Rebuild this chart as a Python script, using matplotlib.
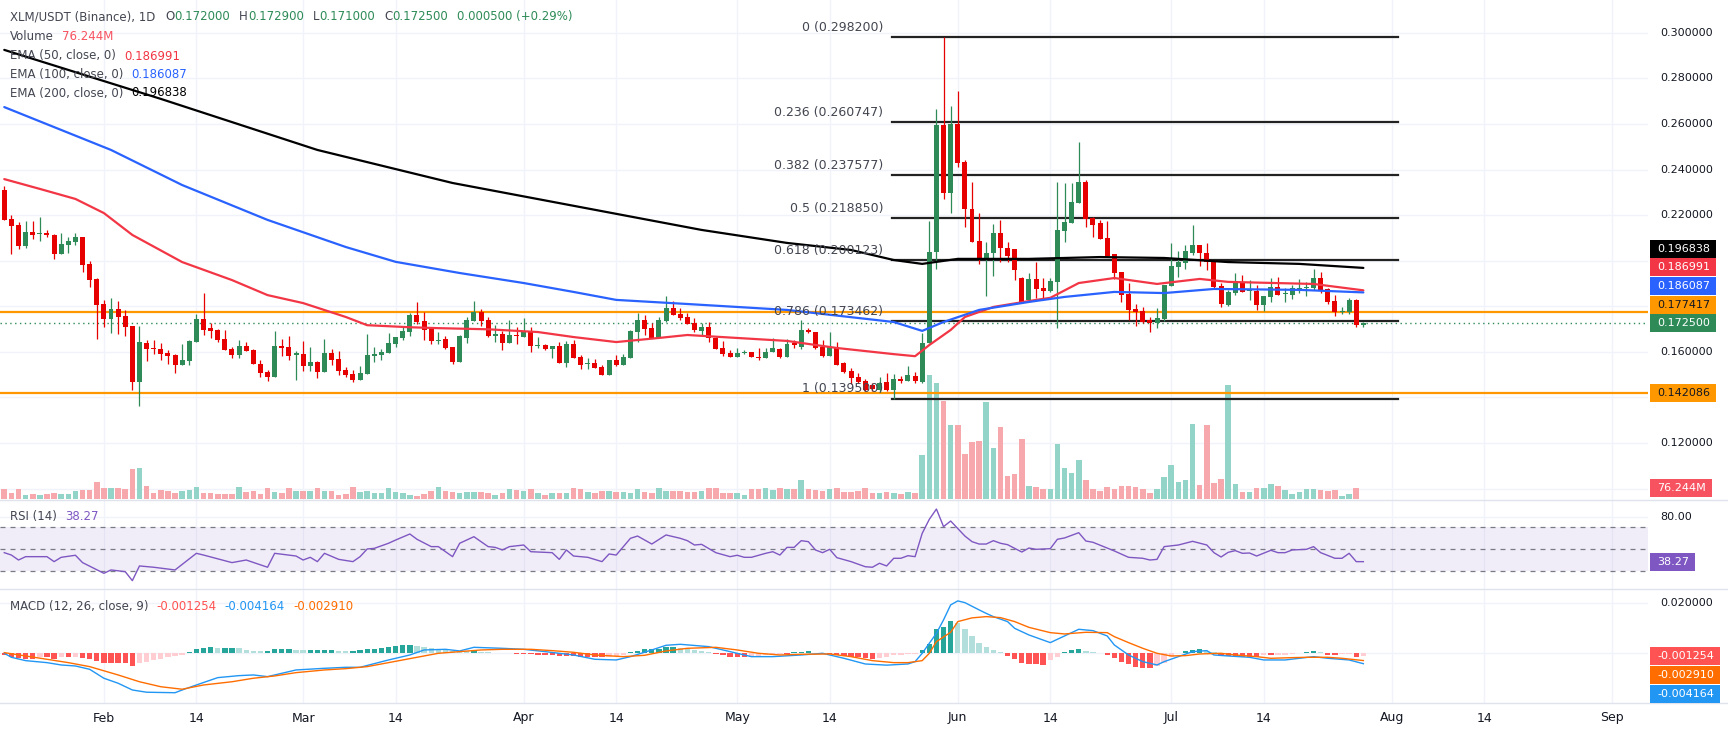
import numpy as np
import pandas as pd
import matplotlib
matplotlib.use("Agg")
import matplotlib.pyplot as plt
from matplotlib.patches import Rectangle
from matplotlib.lines import Line2D
from matplotlib.transforms import blended_transform_factory as blend

W, H = 1728, 735

# ---- datos: XLM/USDT diario
start = "2025-01-18"

opens = [
    0.2310, 0.2183, 0.2157, 0.2064, 0.2126, 0.2116, 0.2123, 0.2113, 0.2031, 0.2070,
    0.2082, 0.2104, 0.1986, 0.1921, 0.1810, 0.1744, 0.1788, 0.1759, 0.1714, 0.1469,
    0.1639, 0.1617, 0.1613, 0.1595, 0.1586, 0.1542, 0.1560, 0.1643, 0.1744, 0.1705,
    0.1696, 0.1657, 0.1613, 0.1586, 0.1626, 0.1608, 0.1547, 0.1512, 0.1490, 0.1626,
    0.1621, 0.1588, 0.1591, 0.1538, 0.1556, 0.1512, 0.1595, 0.1569, 0.1520, 0.1503,
    0.1477, 0.1503, 0.1583, 0.1586, 0.1595, 0.1635, 0.1661, 0.1687, 0.1762, 0.1735,
    0.1700, 0.1649, 0.1656, 0.1621, 0.1556, 0.1661, 0.1735, 0.1775, 0.1740, 0.1670,
    0.1678, 0.1639, 0.1674, 0.1665, 0.1692, 0.1626, 0.1630, 0.1613, 0.1626, 0.1551,
    0.1635, 0.1578, 0.1547, 0.1551, 0.1534, 0.1498, 0.1564, 0.1542, 0.1573, 0.1687,
    0.1740, 0.1705, 0.1661, 0.1735, 0.1792, 0.1766, 0.1753, 0.1728, 0.1693, 0.1711,
    0.1660, 0.1616, 0.1594, 0.1579, 0.1596, 0.1598, 0.1579, 0.1572, 0.1598, 0.1613,
    0.1579, 0.1638, 0.1623, 0.1696, 0.1689, 0.1623, 0.1583, 0.1620, 0.1550, 0.1516,
    0.1491, 0.1472, 0.1455, 0.1433, 0.1469, 0.1433, 0.1481, 0.1474, 0.1494, 0.1469,
    0.1638, 0.2037, 0.2596, 0.2296, 0.2598, 0.2435, 0.2227, 0.2087, 0.2011, 0.2032,
    0.2120, 0.2057, 0.2050, 0.1923, 0.1828, 0.1920, 0.1879, 0.1869, 0.1908, 0.2132,
    0.2167, 0.2255, 0.2345, 0.2186, 0.2167, 0.2100, 0.2029, 0.1951, 0.1855, 0.1788,
    0.1779, 0.1740, 0.1728, 0.1744, 0.1890, 0.1974, 0.1992, 0.2033, 0.2069, 0.2033,
    0.2003, 0.1889, 0.1806, 0.1860, 0.1908, 0.1866, 0.1869, 0.1807, 0.1842, 0.1883,
    0.1852, 0.1850, 0.1875, 0.1882, 0.1879, 0.1923, 0.1874, 0.1823, 0.1775, 0.1777,
    0.1828, 0.1720,
]
highs = [
    0.2328, 0.2201, 0.2170, 0.2174, 0.2174, 0.2192, 0.2136, 0.2117, 0.2122, 0.2103,
    0.2122, 0.2104, 0.1999, 0.1926, 0.1828, 0.1836, 0.1823, 0.1784, 0.1714, 0.1714,
    0.1652, 0.1652, 0.1639, 0.1608, 0.1591, 0.1634, 0.1652, 0.1766, 0.1858, 0.1727,
    0.1700, 0.1696, 0.1621, 0.1652, 0.1643, 0.1613, 0.1564, 0.1520, 0.1692, 0.1657,
    0.1670, 0.1604, 0.1648, 0.1621, 0.1560, 0.1657, 0.1613, 0.1604, 0.1534, 0.1520,
    0.1538, 0.1678, 0.1621, 0.1613, 0.1683, 0.1665, 0.1714, 0.1771, 0.1819, 0.1775,
    0.1709, 0.1687, 0.1670, 0.1621, 0.1674, 0.1753, 0.1823, 0.1788, 0.1753, 0.1718,
    0.1692, 0.1740, 0.1709, 0.1748, 0.1709, 0.1665, 0.1635, 0.1626, 0.1643, 0.1648,
    0.1652, 0.1586, 0.1573, 0.1569, 0.1542, 0.1564, 0.1586, 0.1591, 0.1696, 0.1771,
    0.1762, 0.1727, 0.1753, 0.1845, 0.1823, 0.1792, 0.1771, 0.1747, 0.1728, 0.1733,
    0.1664, 0.1648, 0.1608, 0.1616, 0.1608, 0.1598, 0.1616, 0.1616, 0.1660, 0.1616,
    0.1657, 0.1652, 0.1740, 0.1704, 0.1689, 0.1652, 0.1689, 0.1642, 0.1554, 0.1528,
    0.1506, 0.1480, 0.1462, 0.1491, 0.1506, 0.1502, 0.1494, 0.1540, 0.1513, 0.1681,
    0.2174, 0.2664, 0.2982, 0.2679, 0.2745, 0.2442, 0.2344, 0.2211, 0.2084, 0.2161,
    0.2179, 0.2084, 0.2050, 0.1930, 0.1944, 0.1996, 0.1923, 0.1923, 0.2347, 0.2343,
    0.2343, 0.2521, 0.2354, 0.2190, 0.2179, 0.2174, 0.2029, 0.1951, 0.1904, 0.1810,
    0.1798, 0.1754, 0.1793, 0.1892, 0.2076, 0.2043, 0.2069, 0.2157, 0.2069, 0.2076,
    0.2003, 0.1901, 0.1871, 0.1945, 0.1937, 0.1915, 0.1894, 0.1845, 0.1923, 0.1930,
    0.1879, 0.1894, 0.1918, 0.1908, 0.1962, 0.1952, 0.1879, 0.1850, 0.1798, 0.1835,
    0.1832, 0.1729,
]
lows = [
    0.2178, 0.2029, 0.2050, 0.2057, 0.2095, 0.2088, 0.2106, 0.2009, 0.2031, 0.2035,
    0.2070, 0.1952, 0.1886, 0.1657, 0.1711, 0.1684, 0.1680, 0.1671, 0.1434, 0.1364,
    0.1561, 0.1591, 0.1564, 0.1548, 0.1509, 0.1542, 0.1542, 0.1643, 0.1674, 0.1661,
    0.1643, 0.1608, 0.1573, 0.1573, 0.1604, 0.1547, 0.1490, 0.1472, 0.1490, 0.1582,
    0.1564, 0.1477, 0.1516, 0.1516, 0.1485, 0.1512, 0.1542, 0.1498, 0.1491, 0.1469,
    0.1477, 0.1503, 0.1556, 0.1564, 0.1595, 0.1621, 0.1652, 0.1670, 0.1722, 0.1652,
    0.1635, 0.1635, 0.1613, 0.1547, 0.1556, 0.1639, 0.1735, 0.1713, 0.1665, 0.1643,
    0.1608, 0.1639, 0.1635, 0.1665, 0.1600, 0.1617, 0.1608, 0.1573, 0.1551, 0.1534,
    0.1573, 0.1525, 0.1525, 0.1529, 0.1498, 0.1498, 0.1538, 0.1542, 0.1573, 0.1643,
    0.1674, 0.1661, 0.1661, 0.1731, 0.1762, 0.1740, 0.1722, 0.1689, 0.1674, 0.1645,
    0.1613, 0.1582, 0.1579, 0.1579, 0.1589, 0.1576, 0.1564, 0.1572, 0.1598, 0.1575,
    0.1576, 0.1619, 0.1613, 0.1681, 0.1613, 0.1579, 0.1583, 0.1542, 0.1506, 0.1459,
    0.1462, 0.1430, 0.1430, 0.1425, 0.1430, 0.1395, 0.1462, 0.1474, 0.1465, 0.1462,
    0.1638, 0.1962, 0.2269, 0.2211, 0.2410, 0.2149, 0.2084, 0.1984, 0.1845, 0.1933,
    0.1996, 0.1996, 0.1915, 0.1813, 0.1820, 0.1835, 0.1835, 0.1864, 0.1703, 0.2084,
    0.2167, 0.2255, 0.2149, 0.2106, 0.2097, 0.2018, 0.1918, 0.1820, 0.1740, 0.1714,
    0.1728, 0.1689, 0.1703, 0.1735, 0.1890, 0.1930, 0.1965, 0.2025, 0.1978, 0.1959,
    0.1879, 0.1798, 0.1801, 0.1850, 0.1864, 0.1828, 0.1784, 0.1780, 0.1820, 0.1851,
    0.1820, 0.1834, 0.1860, 0.1846, 0.1871, 0.1860, 0.1809, 0.1759, 0.1765, 0.1765,
    0.1711, 0.1710,
]
closes = [
    0.2179, 0.2154, 0.2064, 0.2126, 0.2114, 0.2122, 0.2114, 0.2031, 0.2073, 0.2087,
    0.2104, 0.1981, 0.1917, 0.1807, 0.1744, 0.1788, 0.1754, 0.1711, 0.1469, 0.1643,
    0.1613, 0.1613, 0.1591, 0.1582, 0.1544, 0.1564, 0.1648, 0.1744, 0.1696, 0.1692,
    0.1652, 0.1608, 0.1586, 0.1626, 0.1604, 0.1547, 0.1509, 0.1490, 0.1626, 0.1617,
    0.1582, 0.1593, 0.1538, 0.1556, 0.1512, 0.1595, 0.1564, 0.1516, 0.1498, 0.1477,
    0.1507, 0.1586, 0.1591, 0.1600, 0.1639, 0.1665, 0.1692, 0.1762, 0.1731, 0.1696,
    0.1648, 0.1654, 0.1617, 0.1556, 0.1670, 0.1740, 0.1775, 0.1735, 0.1670, 0.1678,
    0.1639, 0.1674, 0.1671, 0.1692, 0.1626, 0.1630, 0.1613, 0.1626, 0.1551, 0.1635,
    0.1573, 0.1542, 0.1551, 0.1529, 0.1498, 0.1564, 0.1542, 0.1578, 0.1692, 0.1740,
    0.1700, 0.1661, 0.1740, 0.1792, 0.1762, 0.1749, 0.1722, 0.1696, 0.1711, 0.1660,
    0.1613, 0.1589, 0.1579, 0.1597, 0.1600, 0.1576, 0.1572, 0.1601, 0.1616, 0.1579,
    0.1635, 0.1630, 0.1696, 0.1686, 0.1616, 0.1583, 0.1620, 0.1542, 0.1510, 0.1484,
    0.1469, 0.1433, 0.1436, 0.1465, 0.1433, 0.1480, 0.1472, 0.1499, 0.1474, 0.1638,
    0.2040, 0.2596, 0.2296, 0.2598, 0.2430, 0.2225, 0.2084, 0.2011, 0.2032, 0.2120,
    0.2057, 0.2022, 0.1959, 0.1820, 0.1918, 0.1876, 0.1869, 0.1911, 0.2135, 0.2170,
    0.2258, 0.2345, 0.2181, 0.2157, 0.2097, 0.2022, 0.1948, 0.1850, 0.1784, 0.1775,
    0.1733, 0.1725, 0.1749, 0.1892, 0.1977, 0.1995, 0.2043, 0.2069, 0.2033, 0.1996,
    0.1886, 0.1811, 0.1863, 0.1908, 0.1864, 0.1871, 0.1807, 0.1845, 0.1883, 0.1851,
    0.1857, 0.1879, 0.1879, 0.1886, 0.1923, 0.1871, 0.1820, 0.1777, 0.1779, 0.1828,
    0.1720, 0.1725,
]
# volumen en millones
volumes = [
    69, 42, 72, 28, 37, 28, 37, 42, 39, 39,
    60, 65, 65, 120, 76, 81, 76, 74, 210, 217,
    92, 42, 65, 58, 46, 58, 62, 88, 46, 42,
    37, 37, 37, 83, 51, 60, 35, 76, 53, 42,
    78, 58, 60, 60, 76, 58, 55, 28, 37, 83,
    51, 58, 42, 46, 78, 51, 42, 32, 23, 35,
    60, 85, 58, 51, 46, 51, 51, 51, 46, 32,
    42, 74, 65, 58, 69, 42, 32, 42, 42, 46,
    76, 69, 51, 42, 55, 58, 51, 49, 46, 69,
    53, 46, 76, 60, 60, 60, 53, 53, 60, 76,
    76, 46, 46, 42, 32, 69, 72, 76, 65, 76,
    69, 69, 134, 69, 65, 60, 69, 76, 53, 53,
    60, 76, 46, 46, 53, 46, 37, 53, 42, 307,
    861, 808, 683, 515, 515, 314, 400, 407, 672, 353,
    499, 162, 176, 416, 92, 88, 69, 69, 383, 215,
    185, 273, 134, 69, 58, 83, 72, 92, 92, 88,
    72, 42, 72, 152, 238, 122, 134, 522, 99, 515,
    116, 139, 792, 104, 53, 53, 76, 76, 106, 92,
    65, 37, 53, 72, 72, 65, 60, 65, 23, 37,
    76.244, 0,
]
# histograma MACD (x 0.001)
macd_hist = [
    -0.67, -1.34, -1.88, -2.14, -2.14, -1.61, -1.61, -2.14, -1.61, -1.61,
    -1.34, -1.88, -2.41, -2.95, -3.75, -3.75, -3.75, -3.75, -4.96, -4.02,
    -3.35, -2.68, -2.14, -1.61, -1.07, -0.67, 0.67, 1.61, 2.01, 2.41,
    2.28, 2.28, 2.28, 2.01, 1.34, 1.07, 0.80, 1.07, 1.61, 1.61,
    1.61, 1.34, 1.21, 1.21, 1.34, 1.34, 1.34, 1.07, 0.94, 1.07,
    1.34, 1.61, 1.74, 2.01, 2.41, 2.81, 3.22, 3.22, 2.95, 2.41,
    2.01, 1.61, 1.34, 1.07, 0.94, 0.80, 0.80, 0.67, 0.40, 0.27,
    0.13, 0.05, -0.13, -0.27, -0.27, -0.67, -0.80, -0.80, -1.07, -1.07,
    -1.07, -1.34, -1.34, -1.61, -1.61, -1.34, -1.07, -0.67, 0.40, 1.07,
    1.61, 1.61, 1.88, 2.41, 2.41, 2.14, 1.61, 1.34, 0.94, 0.54,
    -0.27, -0.80, -1.34, -1.61, -1.61, -1.34, -1.07, -0.80, -0.54, -0.27,
    -0.27, 0.40, 0.67, 0.94, 0.27, 0.05, -0.27, -0.67, -1.07, -1.34,
    -1.61, -1.88, -2.14, -1.88, -1.34, -0.80, -0.54, -0.40, -0.10, 1.34,
    3.75, 9.65, 10.72, 13.00, 12.33, 9.78, 6.97, 4.29, 2.41, 1.34,
    0.40, -1.07, -2.41, -4.02, -4.42, -4.42, -4.69, -2.68, -1.34, 0.40,
    1.34, 1.61, 0.94, 0.40, 0.05, -0.80, -2.01, -3.35, -4.29, -5.36,
    -5.90, -5.90, -5.09, -3.75, -1.61, -0.05, 0.80, 1.34, 1.61, 1.07,
    0.40, -0.67, -1.07, -1.34, -1.34, -1.34, -1.34, -0.80, -0.80, -0.67,
    -0.54, -0.27, 0.27, 0.40, 1.07, 0.40, -0.67, -0.80, -0.40, -0.13,
    -1.34, -1.254,
]

# medias, RSI y MACD: (día desde el inicio, valor)
ema50_pts = [(0, 0.2358), (5, 0.2315), (10, 0.2271), (14, 0.2209), (18, 0.2113), (25, 0.1994),
             (32, 0.1915), (37, 0.1849), (42, 0.1814), (48, 0.1753), (51, 0.1717), (57, 0.1708),
             (61, 0.1704), (68, 0.1699), (75, 0.1687), (80, 0.1665), (86, 0.1643), (92, 0.1661),
             (96, 0.1674), (103, 0.1661), (110, 0.1648), (117, 0.1617), (125, 0.1590), (128, 0.1581),
             (130, 0.1630), (133, 0.1696), (135, 0.1753), (139, 0.1797), (145, 0.1828), (147, 0.1837),
             (151, 0.1902), (156, 0.1924), (162, 0.1898), (168, 0.1920), (172, 0.1907), (184, 0.1898),
             (191, 0.186991)]
ema100_pts = [(0, 0.2674), (15, 0.2486), (25, 0.2332), (37, 0.2179), (48, 0.2060), (55, 0.1995),
              (64, 0.1946), (73, 0.1902), (80, 0.1863), (86, 0.1828), (96, 0.1810), (110, 0.1784),
              (125, 0.1731), (129, 0.1692), (132, 0.1731), (137, 0.1784), (144, 0.1819), (149, 0.1841),
              (156, 0.1863), (163, 0.1858), (170, 0.1876), (182, 0.1872), (191, 0.186087)]
ema200_pts = [(0, 0.2925), (22, 0.2710), (44, 0.2486), (63, 0.2341), (98, 0.2135), (110, 0.2078),
              (119, 0.2047), (125, 0.2003), (129, 0.1986), (134, 0.2008), (144, 0.2008), (154, 0.2016),
              (163, 0.2012), (172, 0.1994), (182, 0.1986), (191, 0.196838)]
rsi_pts = [(0, 46.6), (1, 44.4), (2, 39.8), (3, 42.9), (6, 42.9), (7, 38.3), (8, 42.3), (10, 44.2),
           (11, 37.4), (14, 27.5), (15, 30.6), (17, 29.0), (18, 20.7), (19, 34.3), (21, 33.1),
           (24, 30.6), (27, 46.0), (28, 44.4), (32, 37.4), (34, 39.8), (37, 33.1), (38, 46.0),
           (41, 43.5), (42, 39.8), (43, 42.3), (44, 38.3), (45, 46.0), (47, 40.4), (49, 38.3),
           (50, 42.9), (51, 50.0), (52, 50.6), (54, 55.3), (55, 58.3), (57, 63.9), (58, 59.0),
           (60, 52.2), (61, 52.2), (63, 42.9), (64, 55.3), (66, 61.4), (68, 52.2), (69, 51.5),
           (70, 49.1), (71, 52.2), (73, 53.7), (74, 47.5), (77, 46.6), (78, 40.4), (79, 49.1),
           (80, 43.5), (82, 42.3), (84, 38.3), (85, 45.4), (86, 44.4), (88, 59.9), (89, 62.0),
           (91, 54.6), (93, 63.0), (95, 59.9), (96, 57.7), (97, 53.7), (98, 54.3), (100, 46.6),
           (102, 42.9), (103, 44.2), (104, 42.3), (105, 42.3), (107, 46.0), (108, 47.5), (109, 44.4),
           (110, 51.5), (111, 51.5), (112, 57.7), (113, 56.8), (114, 49.1), (115, 46.6), (116, 49.7),
           (117, 42.0), (119, 38.3), (121, 33.6), (122, 33.1), (123, 36.8), (124, 34.3), (125, 41.4),
           (126, 41.4), (127, 43.8), (128, 42.9), (129, 64.5), (130, 77.5), (131, 87.0), (132, 70.7),
           (133, 75.9), (135, 62.0), (136, 56.8), (137, 54.6), (138, 54.6), (139, 57.7), (140, 55.3),
           (141, 54.0), (142, 50.6), (143, 47.2), (144, 50.9), (145, 49.7), (147, 50.3), (148, 59.0),
           (149, 60.2), (151, 65.1), (152, 57.4), (153, 56.2), (156, 48.2), (158, 42.3), (160, 41.4),
           (161, 39.8), (162, 40.4), (163, 52.2), (165, 53.7), (167, 57.1), (169, 53.7), (170, 46.6),
           (171, 42.6), (172, 46.9), (173, 48.5), (174, 46.0), (175, 46.3), (176, 43.5), (178, 48.8),
           (179, 46.6), (180, 46.6), (181, 49.1), (183, 49.7), (184, 52.2), (185, 46.6), (187, 41.4),
           (188, 41.4), (189, 46.0), (190, 38.3), (191, 38.27)]
# MACD y señal (x 0.001)
macd_pts = [(0, 0.0), (1, -1.60), (3, -2.94), (6, -3.74), (8, -4.68), (10, -5.08), (12, -6.41),
            (14, -10.0), (16, -12.0), (18, -14.7), (20, -15.6), (24, -15.8), (25, -14.7), (27, -12.7),
            (30, -9.75), (33, -8.95), (35, -8.68), (37, -9.35), (41, -6.68), (45, -6.01), (48, -5.61),
            (50, -5.61), (54, -2.67), (57, -0.67), (59, 1.34), (62, 1.60), (64, 0.94), (66, 2.40),
            (70, 2.00), (73, 1.60), (76, 0.67), (80, -0.67), (83, -2.40), (86, -2.67), (88, -1.34),
            (91, 1.34), (93, 3.21), (95, 3.61), (99, 2.67), (102, 0.67), (105, -1.34), (108, -1.34),
            (112, -0.67), (115, 0.0), (118, -2.00), (121, -4.28), (124, -4.75), (127, -4.28),
            (128, -3.34), (129, 0.0), (131, 8.02), (132, 13.4), (133, 19.4), (134, 21.0), (135, 20.3),
            (137, 17.4), (138, 16.0), (139, 14.7), (141, 12.7), (142, 10.0), (144, 7.35), (147, 4.28),
            (149, 6.95), (151, 9.62), (153, 9.08), (155, 6.95), (156, 3.34), (158, -0.67), (160, -3.34),
            (162, -4.68), (163, -3.34), (165, -1.34), (167, 0.67), (169, 1.07), (170, -0.67),
            (172, -1.07), (175, -1.60), (177, -2.67), (180, -2.67), (182, -2.00), (184, -1.34),
            (186, -2.00), (189, -2.67), (191, -4.164)]
signal_pts = [(0, 0.27), (3, -1.07), (6, -2.40), (9, -3.74), (12, -5.34), (16, -8.68), (19, -11.4),
              (22, -13.4), (25, -14.4), (28, -12.7), (32, -11.4), (35, -10.0), (38, -9.08), (41, -7.75),
              (45, -6.68), (48, -6.15), (51, -5.34), (54, -3.74), (58, -1.60), (61, 0.0), (64, 0.67),
              (67, 1.34), (70, 1.60), (74, 1.60), (77, 1.07), (80, 0.40), (83, -0.67), (87, -1.34),
              (90, -0.80), (93, 0.94), (96, 2.00), (100, 2.40), (103, 1.34), (106, 0.0), (109, -0.67),
              (112, -0.40), (116, -0.27), (119, -1.34), (122, -2.94), (125, -3.74), (127, -3.74),
              (129, -2.94), (130, 0.0), (131, 4.68), (133, 8.42), (134, 12.7), (136, 14.2), (138, 14.7),
              (140, 14.3), (142, 12.7), (144, 10.4), (147, 8.28), (149, 7.75), (152, 8.42), (155, 8.28),
              (156, 6.68), (158, 4.28), (160, 2.00), (162, 0.0), (164, -1.07), (166, -0.94), (168, -0.27),
              (171, 0.0), (173, -0.67), (176, -1.34), (178, -2.00), (181, -1.74), (183, -1.60),
              (186, -1.60), (188, -2.00), (191, -2.91)]

levels = [0.177417, 0.142086]
fib_high, fib_low = 0.2982, 0.1395
fib_ratios = [0, 0.236, 0.382, 0.5, 0.618, 0.786, 1]
fib_names = ["0", "0.236", "0.382", "0.5", "0.618", "0.786", "1"]

assert len(opens) == len(highs) == len(lows) == len(closes) == len(volumes) == len(macd_hist)

# ---- estilos
TXT = "#131722"
LEG = "#434651"
GRID = "#f0f3fa"
SEP = "#e0e3eb"
GREEN = "#2e8b57"
RED = "#e60000"
C50, C100, C200 = "#f23645", "#2962ff", "#000000"
ORANGE = "#ff9800"
PURPLE = "#7e57c2"

o, h, l, c = (np.array(v) for v in (opens, highs, lows, closes))
x = np.arange(len(o))
up = c >= o
dates = pd.date_range(start, periods=232, freq="D")

PW = 1648
XLIM = (-0.6, 231.0)


def rect(top, bottom):
    return [0, 1 - bottom / H, PW / W, (bottom - top) / H]


fig = plt.figure(figsize=(W / 100, H / 100), dpi=100)
fig.patch.set_facecolor("white")
axv = fig.add_axes(rect(0, 500))
ax = fig.add_axes(rect(0, 500))
ax_rsi = fig.add_axes(rect(500, 589))
ax_macd = fig.add_axes(rect(589, 703))
axv.set_zorder(1)
ax.set_zorder(2)
for a in (axv, ax, ax_rsi, ax_macd):
    a.set_axis_off()
    a.set_xlim(*XLIM)

ax.set_ylim(0.300 - 467.2 / 2279, 0.300 + 32.8 / 2279)
axv.set_ylim(-4.85, 3460)
ax_rsi.set_ylim(12.96, 95.37)
ax_macd.set_ylim(-0.01992, 0.025772)

# rejilla vertical en fechas
ticks = [(i, d) for i, d in enumerate(dates) if d.day in (1, 14)]
for a in (axv, ax_rsi, ax_macd):
    for i, d in ticks:
        a.axvline(i, color=GRID, lw=1, zorder=0)

price_ticks = np.round(np.arange(0.10, 0.301, 0.02), 2)
tr = blend(axv.transAxes, ax.transData)
for p in price_ticks:
    axv.plot([0, 1], [p, p], transform=tr, color=GRID, lw=1, zorder=0)

# volumen
vcol = np.where(up, "#92d5c8", "#f7a8ac")
axv.bar(x, volumes, width=0.78, color=vcol, linewidth=0, zorder=1)

# velas
col = np.where(up, GREEN, RED)
ax.vlines(x, l, h, colors=col, lw=0.9, zorder=3)
ax.bar(x, np.maximum(np.abs(c - o), 0.0004), bottom=np.minimum(o, c), width=0.7,
       color=col, linewidth=0, zorder=4)

for pts, color in ((ema50_pts, C50), (ema100_pts, C100), (ema200_pts, C200)):
    px, py = zip(*pts)
    ax.plot(px, py, color=color, lw=1.6, zorder=5, solid_capstyle="round")

for lv in levels:
    ax.axhline(lv, color=ORANGE, lw=1.6, zorder=2)
ax.axhline(c[-1], color=GREEN, lw=1, ls=(0, (1, 2.5)), zorder=2)

# fibonacci
fib_x0, fib_x1 = 124.7, 195.9
for r, name in zip(fib_ratios, fib_names):
    fp = fib_high - r * (fib_high - fib_low)
    ax.plot([fib_x0, fib_x1], [fp, fp], color="#222222", lw=1.6, zorder=2)
    ax.annotate(f"{name} ({fp:.6f})", xy=(fib_x0, fp), xytext=(-6, 7), textcoords="offset points",
                ha="right", va="center", fontsize=9, color=LEG, zorder=6)

# RSI
ax_rsi.axhspan(30, 70, color=PURPLE, alpha=0.1, lw=0, zorder=1)
for v in (70, 50, 30):
    ax_rsi.axhline(v, color="#787b86", lw=0.9, ls=(0, (4, 4)), zorder=2)
ax_rsi.axhline(80, color=GRID, lw=1, zorder=0)
rx, ry = zip(*rsi_pts)
ax_rsi.plot(rx, ry, color=PURPLE, lw=1, zorder=3)

# MACD
hist = np.array(macd_hist) * 1e-3
prev = np.r_[hist[0], hist[:-1]]
hcol = np.where(hist >= 0, np.where(hist >= prev, "#26a69a", "#b2dfdb"),
                np.where(hist <= prev, "#ff5252", "#ffcdd2"))
ax_macd.axhline(0.02, color=GRID, lw=1, zorder=0)
ax_macd.axhline(0.0, color=GRID, lw=1, zorder=0)
ax_macd.bar(x, hist, width=0.75, color=hcol, linewidth=0, zorder=2)
mx, my = zip(*macd_pts)
sx, sy = zip(*signal_pts)
ax_macd.plot(mx, np.array(my) * 1e-3, color="#2196f3", lw=1, zorder=3)
ax_macd.plot(sx, np.array(sy) * 1e-3, color="#ff6d00", lw=1, zorder=3)

# separadores
for yy in (500, 589, 703):
    fig.add_artist(Line2D([0, 1], [1 - yy / H] * 2, transform=fig.transFigure, color=SEP, lw=1))

rend = fig.canvas.get_renderer()


def ypx(axis, v):
    return H - axis.transData.transform((0, v))[1]


def stack(items, anchor, gap=18.7):
    # items: lista de [y, ...]; anchor queda fijo y el resto se separa
    ys = [it[0] for it in items]
    order = sorted(range(len(items)), key=lambda k: ys[k])
    pos = order.index(anchor)
    out = list(ys)
    last = ys[anchor]
    for k in reversed(order[:pos]):
        out[k] = min(ys[k], last - gap)
        last = out[k]
    last = ys[anchor]
    for k in order[pos + 1:]:
        out[k] = max(ys[k], last + gap)
        last = out[k]
    return out


def tag(y, text, bg, fg="white"):
    t = fig.text(1657 / W, 1 - y / H, text, color=fg, fontsize=8, va="center", ha="left", zorder=11)
    bb = t.get_window_extent(rend)
    fig.add_artist(Rectangle((1650 / W, 1 - (y + 9) / H), (bb.x1 + 6 - 1650) / W, 18 / H,
                             transform=fig.transFigure, facecolor=bg, edgecolor="none", zorder=10))


main_tags = [
    (ypx(ax, ema200_pts[-1][1]), f"{ema200_pts[-1][1]:.6f}", C200, "white"),
    (ypx(ax, ema50_pts[-1][1]), f"{ema50_pts[-1][1]:.6f}", C50, "white"),
    (ypx(ax, ema100_pts[-1][1]), f"{ema100_pts[-1][1]:.6f}", C100, "white"),
    (ypx(ax, levels[0]), f"{levels[0]:.6f}", ORANGE, TXT),
    (ypx(ax, c[-1]), f"{c[-1]:.6f}", GREEN, "white"),
    (ypx(ax, levels[1]), f"{levels[1]:.6f}", ORANGE, TXT),
    (ypx(axv, volumes[-2]), f"{volumes[-2]:.3f}M", "#f7525f", "white"),
]
macd_tags = [
    (ypx(ax_macd, hist[-1]), f"{hist[-1]:.6f}", "#ff5252", "white"),
    (ypx(ax_macd, sy[-1] * 1e-3), f"{sy[-1] * 1e-3:.6f}", "#ff6d00", "white"),
    (ypx(ax_macd, my[-1] * 1e-3), f"{my[-1] * 1e-3:.6f}", "#2196f3", "white"),
]
rsi_tags = [(ypx(ax_rsi, ry[-1]), f"{ry[-1]:.2f}", PURPLE, "white")]

tag_y = []
for group, anchor in ((main_tags, 4), (macd_tags, 0), (rsi_tags, 0)):
    ys = stack(group, anchor)
    for yy, it in zip(ys, group):
        tag(yy, it[1], it[2], it[3])
        tag_y.append(yy)

# etiquetas del eje de precios (ocultas si las tapa una etiqueta de color)
scale_labels = [(ypx(ax, p), f"{p:.6f}") for p in price_ticks]
scale_labels += [(ypx(ax_rsi, 80), "80.00"), (ypx(ax_macd, 0.02), "0.020000"), (ypx(ax_macd, 0.0), "0.000000")]
for yy, s in scale_labels:
    if 0 < yy < 703 and all(abs(yy - t) > 12 for t in tag_y):
        fig.text(1660 / W, 1 - yy / H, s, color=TXT, fontsize=8, va="center", ha="left")

# eje de fechas
for i, d in ticks:
    xf = ax.transData.transform((i, 0))[0] / W
    if xf < PW / W:
        fig.text(xf, 1 - 718 / H, d.strftime("%b") if d.day == 1 else "14",
                 color=TXT, fontsize=9, ha="center", va="center")


def row(y, parts, x0=10, size=8.5):
    xx = x0
    for txt, color, gap in parts:
        t = fig.text(xx / W, 1 - y / H, txt, color=color, fontsize=size, va="center", ha="left", zorder=12)
        xx = t.get_window_extent(rend).x1 + gap


chg = c[-1] - c[-2]
row(16.7, [("XLM/USDT (Binance), 1D", LEG, 10),
           ("O", LEG, 0), (f"{o[-1]:.6f}", GREEN, 9),
           ("H", LEG, 0), (f"{h[-1]:.6f}", GREEN, 9),
           ("L", LEG, 0), (f"{l[-1]:.6f}", GREEN, 9),
           ("C", LEG, 0), (f"{c[-1]:.6f}", GREEN, 9),
           (f"{chg:.6f} ({chg / c[-2] * 100:+.2f}%)", GREEN, 0)])
row(36.7, [("Volume", LEG, 8), (f"{volumes[-2]:.3f}M", "#f7525f", 0)])
row(56, [("EMA (50, close, 0)", LEG, 8), (f"{ema50_pts[-1][1]:.6f}", C50, 0)])
row(74.5, [("EMA (100, close, 0)", LEG, 8), (f"{ema100_pts[-1][1]:.6f}", C100, 0)])
row(93, [("EMA (200, close, 0)", LEG, 8), (f"{ema200_pts[-1][1]:.6f}", C200, 0)])
row(516.7, [("RSI (14)", LEG, 8), (f"{ry[-1]:.2f}", PURPLE, 0)])
row(606.7, [("MACD (12, 26, close, 9)", LEG, 8), (f"{hist[-1]:.6f}", "#ff5252", 8),
            (f"{my[-1] * 1e-3:.6f}", "#2196f3", 8), (f"{sy[-1] * 1e-3:.6f}", "#ff6d00", 0)])

fig.savefig("out.png", dpi=100, facecolor="white")
